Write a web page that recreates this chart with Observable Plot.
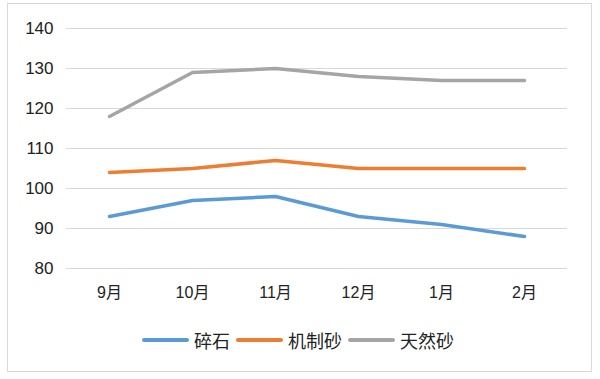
<!DOCTYPE html>
<html>
<head>
<meta charset="utf-8">
<script src="https://cdn.jsdelivr.net/npm/d3@7"></script>
<script src="https://cdn.jsdelivr.net/npm/@observablehq/plot@0.6"></script>
<style>
  body { margin: 0; background: #fff; }
  #wrap { position: relative; width: 600px; height: 379px; overflow: hidden; font-family: "Liberation Sans", "Noto Sans CJK SC", sans-serif; }
  #frame { position: absolute; left: 7px; top: 3px; width: 585px; height: 369px; border: 1px solid #d9d9d9; box-sizing: border-box; }
  #chart { position: absolute; left: 0; top: 0; }
  #legend { position: absolute; left: 0; top: 327px; width: 596px; display: flex; justify-content: center; align-items: center; font-size: 18px; color: #222; font-family: "Noto Sans CJK SC", sans-serif; }
  .item { display: flex; align-items: center; margin: 0 3px; }
  .swatch { width: 47px; height: 4px; border-radius: 2px; margin-right: 5px; }
</style>
</head>
<body>
<div id="wrap">
  <div id="frame"></div>
  <div id="chart"></div>
  <div id="legend"></div>
</div>
<script>
const months = ["9月", "10月", "11月", "12月", "1月", "2月"];
const seriesNames = ["碎石", "机制砂", "天然砂"];
const gravel = [93, 97, 98, 93, 91, 88];
const machineSand = [104, 105, 107, 105, 105, 105];
const naturalSand = [118, 129, 130, 128, 127, 127];
const yTicks = [80, 90, 100, 110, 120, 130, 140];
const colors = ["#5B9BD5", "#ED7D31", "#A5A5A5"];

const seriesValues = [gravel, machineSand, naturalSand];
const data = [];
seriesNames.forEach((s, i) => {
  months.forEach((m, j) => data.push({series: s, month: m, value: seriesValues[i][j]}));
});

const chart = Plot.plot({
  width: 600,
  height: 320,
  marginLeft: 66,
  marginRight: 33,
  marginTop: 28,
  marginBottom: 52,
  style: { fontSize: "16px", fontFamily: "'Liberation Sans', 'Noto Sans CJK SC', sans-serif", color: "#222", background: "transparent" },
  x: { type: "point", domain: months, padding: 0.5, label: null },
  y: { domain: [80, 140], label: null },
  color: { domain: seriesNames, range: colors },
  marks: [
    Plot.ruleY(yTicks, { stroke: "#d9d9d9", strokeWidth: 1 }),
    Plot.axisY({ ticks: yTicks, tickSize: 0, tickPadding: 13, label: null, fontSize: 17 }),
    Plot.axisX({ tickSize: 0, tickPadding: 18, label: null, fontSize: 16 }),
    Plot.line(data, { x: "month", y: "value", z: "series", stroke: "series", strokeWidth: 3.5, strokeLinecap: "round", strokeLinejoin: "round" })
  ]
});
document.getElementById("chart").appendChild(chart);

const legend = document.getElementById("legend");
seriesNames.forEach((s, i) => {
  const item = document.createElement("div");
  item.className = "item";
  const sw = document.createElement("div");
  sw.className = "swatch";
  sw.style.background = colors[i];
  const t = document.createElement("span");
  t.textContent = s;
  item.appendChild(sw);
  item.appendChild(t);
  legend.appendChild(item);
});
</script>
</body>
</html>
